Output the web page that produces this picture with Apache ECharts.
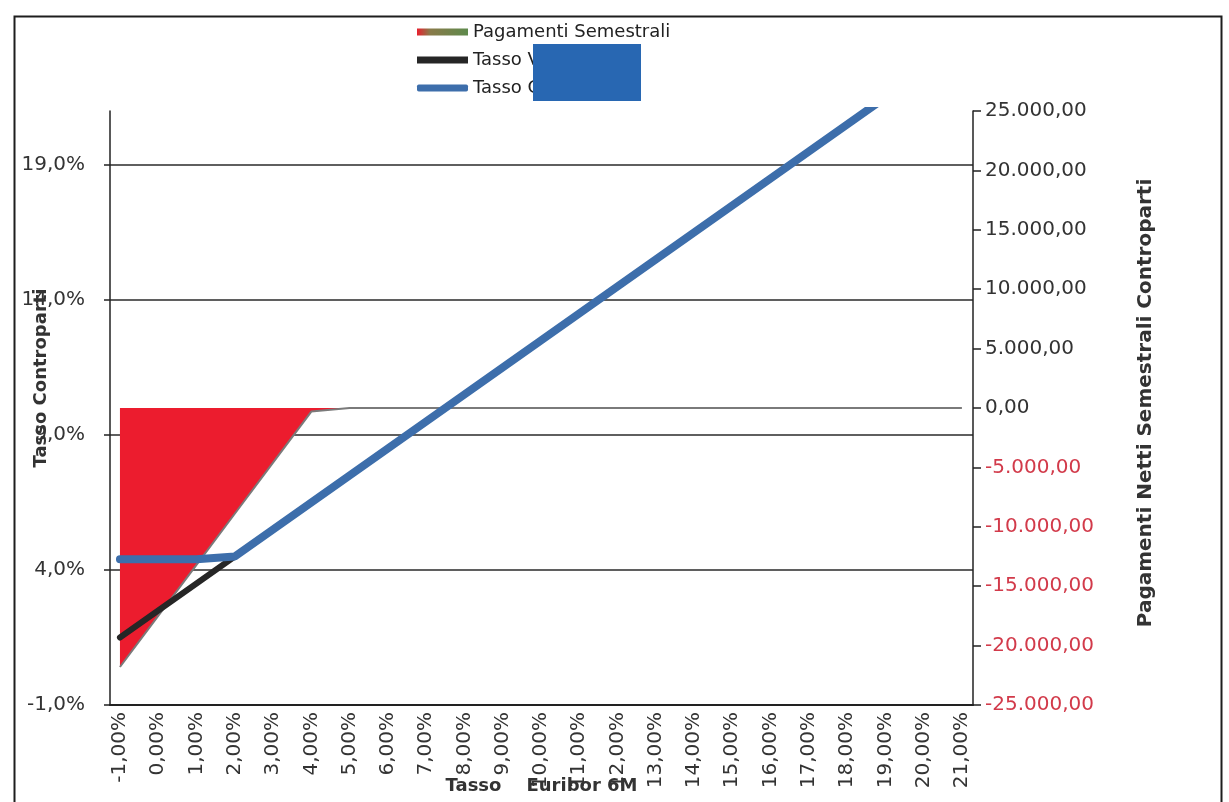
<!DOCTYPE html>
<html>
<head>
<meta charset="utf-8">
<script src="https://cdn.jsdelivr.net/npm/echarts@6/dist/echarts.min.js"></script>
<style>
  html, body { margin: 0; padding: 0; background: #ffffff; }
  #chart { width: 1229px; height: 802px; }
</style>
</head>
<body>
<div id="chart"></div>
<script>
// Euribor 6M scenarios (x axis, %)
const euribor = [-1, 0, 1, 2, 3, 4, 5, 6, 7, 8, 9, 10, 11, 12, 13, 14, 15, 16, 17, 18, 19, 20, 21];

// Net semiannual payments (right axis)
const pagamentiSemestrali = [-21800, -17500, -13200, -8900, -4600, -300, 0, 0, 0, 0, 0, 0, 0, 0, 0, 0, 0, 0, 0, 0, 0, 0, 0];

// Counterparty rates (left axis, %)
const tassoVariabile = [1.5, 2.5, 3.5, 4.5, 5.5, 6.5, 7.5, 8.5, 9.5, 10.5, 11.5, 12.5, 13.5, 14.5, 15.5, 16.5, 17.5, 18.5, 19.5, 20.5, 21.5, 22.5, 23.5];
const tassoCliente = [4.4, 4.4, 4.4, 4.5, 5.5, 6.5, 7.5, 8.5, 9.5, 10.5, 11.5, 12.5, 13.5, 14.5, 15.5, 16.5, 17.5, 18.5, 19.5, 20.5, 21.5, 22.5, 23.5];

// Axis tick values
const leftTicks = { min: -1, max: 21, step: 5 };
const rightTicks = { min: -25000, max: 25000, step: 5000 };

const pairs = (ys) => euribor.map((x, i) => [x, ys[i]]);

function itNumber(v, decimals) {
  const neg = v < 0;
  const parts = Math.abs(v).toFixed(decimals).split('.');
  const intPart = parts[0].replace(/\B(?=(\d{3})+(?!\d))/g, '.');
  return (neg ? '-' : '') + intPart + (parts[1] ? ',' + parts[1] : '');
}

const FONT = 'DejaVu Sans';
const chart = echarts.init(document.getElementById('chart'), null, { renderer: 'canvas' });

chart.setOption({
  backgroundColor: '#ffffff',
  animation: false,
  grid: { left: 110, right: 256, top: 111, bottom: 97, containLabel: false, outerBoundsMode: 'none' },
  legend: {
    orient: 'vertical',
    left: 412,
    top: 18,
    itemWidth: 51,
    itemHeight: 7,
    itemGap: 10,
    textStyle: { fontFamily: FONT, fontSize: 18, color: '#222' },
    data: [
      {
        name: 'Pagamenti Semestrali',
        icon: 'rect',
        itemStyle: {
          color: new echarts.graphic.LinearGradient(0, 0, 1, 0, [
            { offset: 0, color: '#e8202e' },
            { offset: 0.25, color: '#8a7a4a' },
            { offset: 1, color: '#5e8a4c' }
          ])
        }
      },
      { name: 'Tasso Variabile', icon: 'rect', itemStyle: { color: '#262626' } },
      { name: 'Tasso Cliente', icon: 'roundRect', itemStyle: { color: '#3d6eab' } }
    ]
  },
  xAxis: {
    type: 'value',
    min: -1.26,
    max: 21.29,
    name: 'Tasso    Euribor 6M',
    nameLocation: 'middle',
    nameGap: 72,
    nameMoveOverlap: false,
    nameTextStyle: { fontFamily: FONT, fontSize: 18, fontWeight: 'bold', color: '#333' },
    axisLine: { show: true, onZero: false, lineStyle: { color: '#222', width: 2 } },
    axisTick: { show: false },
    splitLine: { show: false },
    axisLabel: {
      customValues: euribor,
      rotate: 90,
      margin: 7,
      fontFamily: FONT,
      fontSize: 20,
      color: '#333',
      formatter: (v) => itNumber(v, 2) + '%'
    }
  },
  yAxis: [
    {
      type: 'value',
      position: 'left',
      min: leftTicks.min,
      max: leftTicks.max,
      interval: leftTicks.step,
      name: 'Tasso Controparti',
      nameLocation: 'middle',
      nameGap: 60,
      nameMoveOverlap: false,
      nameRotate: 90,
      nameTextStyle: { fontFamily: FONT, fontSize: 18, fontWeight: 'bold', color: '#333', padding: [0, 0, 0, 60] },
      axisLine: { show: true, onZero: false, lineStyle: { color: '#222', width: 1.5 } },
      axisTick: { show: true, length: 6, lineStyle: { color: '#222', width: 1.5 } },
      axisLabel: {
        margin: 25,
        fontFamily: FONT,
        fontSize: 20,
        color: '#333',
        showMaxLabel: false,
        formatter: (v) => itNumber(v, 1) + '%'
      },
      splitLine: {
        show: true,
        showMinLine: false,
        showMaxLine: false,
        lineStyle: { color: '#2a2a2a', width: 1.5 }
      }
    },
    {
      type: 'value',
      position: 'right',
      min: rightTicks.min,
      max: rightTicks.max,
      interval: rightTicks.step,
      name: 'Pagamenti Netti Semestrali Controparti',
      nameLocation: 'middle',
      nameGap: 163,
      nameMoveOverlap: false,
      nameRotate: 90,
      nameTextStyle: { fontFamily: FONT, fontSize: 20, fontWeight: 'bold', color: '#333', padding: [0, 0, 0, 10] },
      axisLine: { show: true, onZero: false, lineStyle: { color: '#222', width: 1.5 } },
      axisTick: { show: true, length: 8, lineStyle: { color: '#222', width: 1.5 } },
      axisLabel: {
        margin: 12,
        fontFamily: FONT,
        fontSize: 20,
        color: (v) => (Number(v) < 0 ? '#d23a4a' : '#333'),
        formatter: (v) => itNumber(v, 2)
      },
      splitLine: { show: false }
    }
  ],
  series: [
    {
      name: 'Pagamenti Semestrali',
      type: 'line',
      yAxisIndex: 1,
      data: pairs(pagamentiSemestrali),
      symbol: 'none',
      lineStyle: { color: '#7a7a7a', width: 2 },
      itemStyle: { color: '#ec1c2e' },
      areaStyle: { color: '#ec1c2e', opacity: 1 },
      z: 1
    },
    {
      name: 'Tasso Variabile',
      type: 'line',
      yAxisIndex: 0,
      data: pairs(tassoVariabile),
      symbol: 'none',
      clip: true,
      itemStyle: { color: '#262626' },
      lineStyle: { color: '#262626', width: 6, cap: 'round' },
      z: 2
    },
    {
      name: 'Tasso Cliente',
      type: 'line',
      yAxisIndex: 0,
      data: pairs(tassoCliente),
      symbol: 'none',
      clip: true,
      itemStyle: { color: '#3d6eab' },
      lineStyle: { color: '#3d6eab', width: 8, cap: 'round' },
      z: 3
    }
  ],
  graphic: [
    {
      type: 'rect',
      left: 12,
      top: 14,
      shape: { width: 1207, height: 800 },
      style: { fill: 'none', stroke: '#1e1e1e', lineWidth: 2 },
      silent: true,
      z: 0
    },
    {
      type: 'rect',
      left: 533,
      top: 44,
      shape: { width: 108, height: 57 },
      style: { fill: '#2867b2' },
      silent: true,
      z: 100
    }
  ]
});
</script>
</body>
</html>
